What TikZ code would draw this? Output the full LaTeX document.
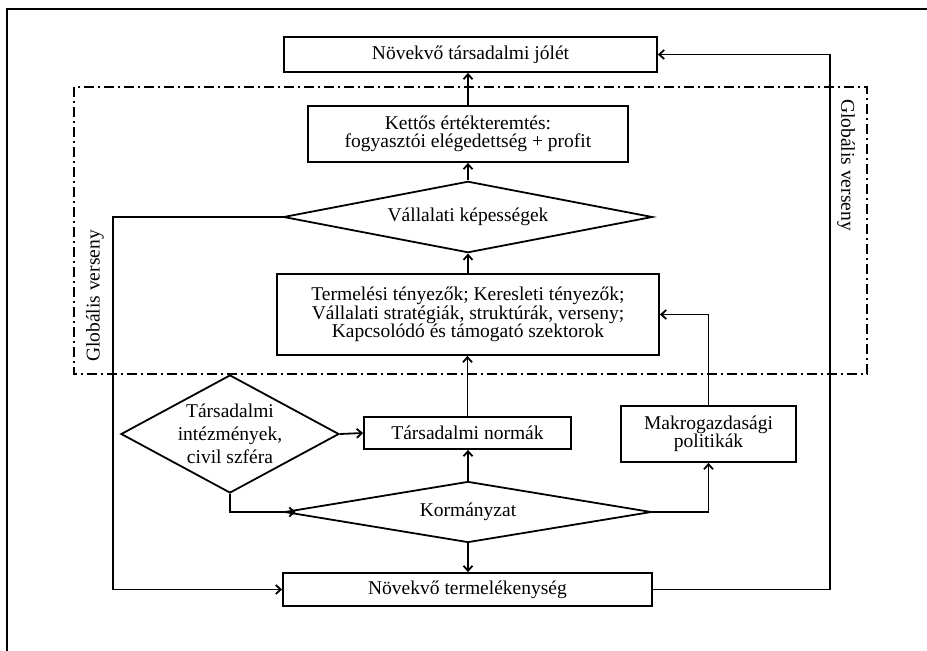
\documentclass[tikz,border=0pt]{standalone}
\usepackage{fontspec}
\setmainfont{Liberation Serif}
\usetikzlibrary{shapes.geometric,arrows.meta}
\begin{document}
\begin{tikzpicture}[x=1pt,y=-1pt,
  every node/.style={font=\fontsize{19.5pt}{18.3pt}\selectfont, inner sep=0pt, align=center},
  box/.style={draw, line width=1.8pt, rectangle},
  dia/.style={draw, line width=1.8pt, diamond, aspect=3},
  arr/.style={line width=1.8pt, -{Straight Barb[length=5pt,width=9pt]}},
  zone/.style={line width=1.5pt, dash pattern=on 10pt off 4pt on 2pt off 4pt}]
\useasboundingbox (0,0) rectangle (927,651);
% outer frame (top and left edges)
\draw[line width=2.6pt] (7,651) -- (7,9) -- (927,9);

% global competition zone
\draw[zone] (74,87) rectangle (867,374);
\node[rotate=90] (globl) at (95,296) {Globális verseny};
\node[rotate=-90] (globr) at (846,165) {Globális verseny};

% boxes and decisions
\node[box, minimum width=373pt, minimum height=35pt] (welfare) at (470.5,54.5) {Növekvő társadalmi jólét};
\node[box, minimum width=320pt, minimum height=56pt] (value) at (468,134) {Kettős értékteremtés:\\fogyasztói elégedettség + profit};
\node[dia, minimum width=369pt, minimum height=61pt] (caps) at (468,217) {Vállalati képességek};
\node[box, minimum width=382pt, minimum height=81pt] (factors) at (468,314.5) {Termelési tényezők; Keresleti tényezők;\\Vállalati stratégiák, struktúrák, verseny;\\Kapcsolódó és támogató szektorok};
\node[box, minimum width=207pt, minimum height=32pt] (norms) at (467.5,433) {Társadalmi normák};
\node[dia, aspect=1.8, minimum width=218pt, minimum height=118pt, font=\fontsize{19.5pt}{23pt}\selectfont] (inst) at (230,434) {Társadalmi\\intézmények,\\civil szféra};
\node[dia, minimum width=367pt, minimum height=61pt] (gov) at (468,512) {Kormányzat};
\node[box, minimum width=175pt, minimum height=56pt] (macro) at (708.5,434) {Makrogazdasági\\politikák};
\node[box, minimum width=369pt, minimum height=33pt] (prod) at (467.5,589.5) {Növekvő termelékenység};

% turning points of the feedback loops
\coordinate (lft) at (113,217);
\coordinate (rgt) at (830,54.5);

% connectors
\draw[arr] (value.north) -- (value.north |- welfare.south);
\draw[arr] (caps.north) -- (value.south);
\draw[arr] (factors.north) -- (caps.south);
\draw[arr] (norms.north) -- (norms.north |- factors.south);
\draw[arr] (inst.east) -- (norms.west);
\draw[arr] (gov.north) -- (gov.north |- norms.south);
\draw[arr] (gov.south) -- (gov.south |- prod.north);
\draw[arr] (inst.south) |- ([xshift=12pt]gov.west);
\draw[arr] (gov.east) -| (macro.south);
\draw[arr] (macro.north) |- (factors.east);
\draw[arr] (caps.west) -- (lft) |- (prod.west);
\draw[arr] (prod.east) -| (rgt) -- (welfare.east);
\end{tikzpicture}
\end{document}
